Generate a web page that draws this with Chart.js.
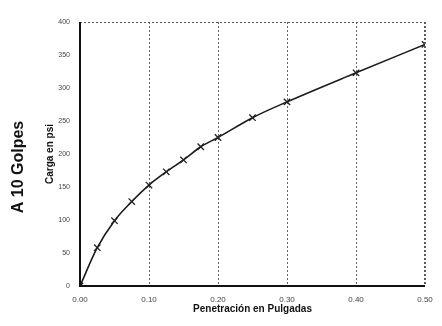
<!DOCTYPE html>
<html>
<head>
<meta charset="utf-8">
<script src="https://cdn.jsdelivr.net/npm/chart.js@4"></script>
<style>
  html, body { margin: 0; padding: 0; background: #fff; }
  #wrap { width: 442px; height: 326px; }
</style>
</head>
<body>
<div id="wrap"><canvas id="c" width="442" height="326"></canvas></div>
<script>
// Penetración (pulgadas) vs carga (psi), ensayo a 10 golpes
const penetracion = [0, 0.025, 0.05, 0.075, 0.1, 0.125, 0.15, 0.175, 0.2, 0.25, 0.3, 0.4, 0.5];
const carga = [0, 58, 99, 128, 153, 173, 191, 211, 225, 255, 279, 323, 366];
const xTickLabels = ['0.00', '0.10', '0.20', '0.30', '0.40', '0.50'];
const yTickLabels = ['0', '50', '100', '150', '200', '250', '300', '350', '400'];
const titulo = 'A 10 Golpes';
const tituloX = 'Penetración en Pulgadas';
const tituloY = 'Carga en psi';

const FONT = '"Liberation Sans", Arial, sans-serif';

function rotatedText(ctx, text, x, y, font) {
  ctx.save();
  ctx.translate(x, y);
  ctx.rotate(-Math.PI / 2);
  ctx.fillStyle = '#111';
  ctx.font = font;
  ctx.textAlign = 'center';
  ctx.textBaseline = 'middle';
  ctx.fillText(text, 0, 0);
  ctx.restore();
}

// Marco del área de trazado y rótulos laterales
const framePlugin = {
  id: 'frame',
  afterDatasetsDraw(chart) {
    const { ctx, chartArea: a } = chart;
    ctx.save();
    ctx.strokeStyle = '#555';
    ctx.lineWidth = 1;
    ctx.setLineDash([2, 2]);
    ctx.beginPath();
    ctx.moveTo(a.left, a.top + 0.5);
    ctx.lineTo(a.right, a.top + 0.5);
    ctx.moveTo(a.right - 0.5, a.top);
    ctx.lineTo(a.right - 0.5, a.bottom);
    ctx.stroke();
    ctx.setLineDash([]);
    ctx.strokeStyle = '#111';
    ctx.lineWidth = 2;
    ctx.beginPath();
    ctx.moveTo(a.left, a.top);
    ctx.lineTo(a.left, a.bottom);
    ctx.lineTo(a.right, a.bottom);
    ctx.stroke();
    ctx.restore();
  },
  afterDraw(chart) {
    const { ctx } = chart;
    rotatedText(ctx, titulo, 19, 167, 'bold 16px ' + FONT);
    rotatedText(ctx, tituloY, 50, 154, 'bold 10px ' + FONT);
  }
};

new Chart(document.getElementById('c'), {
  type: 'line',
  data: {
    datasets: [{
      data: penetracion.map((x, i) => ({ x, y: carga[i] })),
      borderColor: '#1a1a1a',
      borderWidth: 1.6,
      tension: 0.4,
      cubicInterpolationMode: 'monotone',
      pointStyle: 'crossRot',
      pointRadius: 4.5,
      pointBorderWidth: 1.3,
      pointBorderColor: '#222',
      pointBackgroundColor: '#222',
      fill: false
    }]
  },
  options: {
    responsive: false,
    animation: false,
    devicePixelRatio: 1,
    layout: { padding: { top: 22, right: 17, left: 0, bottom: 11 } },
    plugins: { legend: { display: false }, tooltip: { enabled: false } },
    scales: {
      x: {
        type: 'linear',
        min: 0, max: 0.5,
        ticks: {
          stepSize: 0.1,
          color: '#444',
          font: { family: FONT, size: 8 },
          padding: 9,
          maxRotation: 0,
          callback: (v) => xTickLabels[Math.round(v * 10)]
        },
        grid: {
          color: '#666',
          lineWidth: 1,
          drawTicks: false,
          tickLength: 0
        },
        border: { display: false, dash: [2, 2] },
        title: {
          display: true,
          text: tituloX,
          color: '#111',
          font: { family: FONT, size: 10, weight: 'bold' },
          padding: { top: 0, bottom: 0 }
        },
        afterFit: (s) => { s.height = 29; }
      },
      y: {
        min: 0, max: 400,
        ticks: {
          stepSize: 50,
          color: '#444',
          font: { family: FONT, size: 7 },
          padding: 2,
          callback: (v) => yTickLabels[Math.round(v / 50)]
        },
        grid: { display: false },
        border: { display: false },
        afterFit: (s) => { s.width = 80; }
      }
    }
  },
  plugins: [framePlugin]
});
</script>
</body>
</html>
